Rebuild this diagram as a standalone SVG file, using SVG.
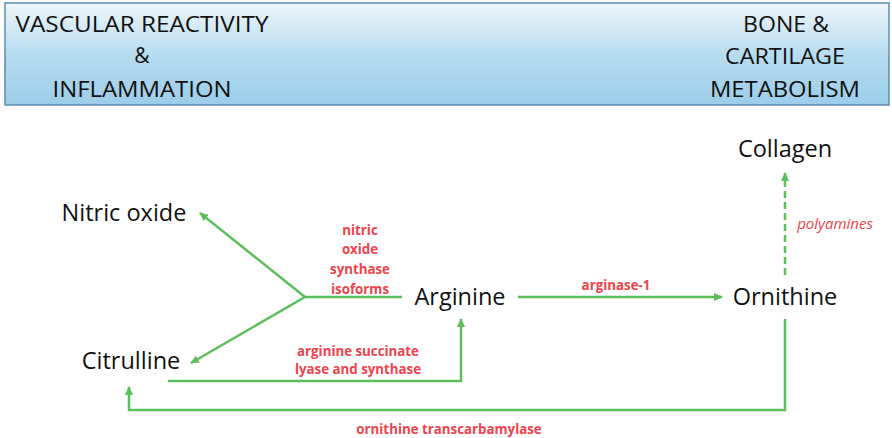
<svg xmlns="http://www.w3.org/2000/svg" width="892" height="438" viewBox="0 0 892 438">
<defs>
<linearGradient id="hdr" x1="0" y1="0" x2="0" y2="1">
<stop offset="0" stop-color="#eef6fb"/>
<stop offset="0.5" stop-color="#b7dcf0"/>
<stop offset="1" stop-color="#9ccde9"/>
</linearGradient>
<marker id="ah" markerWidth="10" markerHeight="10" refX="8" refY="5" orient="auto" markerUnits="userSpaceOnUse">
<path d="M0,1 L9,5 L0,9 Z" fill="#5cbf5c"/>
</marker>
<style>
.hd{font-family:"Open Sans","Liberation Sans",sans-serif;font-size:21px;fill:#111;text-anchor:middle}
.nd{font-family:"Open Sans","Liberation Sans",sans-serif;font-size:23.5px;fill:#111;text-anchor:middle}
.lb{font-family:"Open Sans","Liberation Sans",sans-serif;font-size:13.3px;font-weight:bold;fill:#f0434b;text-anchor:middle}
.it{font-family:"Open Sans","Liberation Sans",sans-serif;font-size:15px;font-style:italic;fill:#f0434b;text-anchor:middle}
.ln{stroke:#5cbf5c;stroke-width:2.5;fill:none}
</style>
</defs>
<rect x="0" y="0" width="892" height="438" fill="#fff"/>
<g id="header">
<rect x="5" y="3" width="884" height="102" fill="url(#hdr)" stroke="#5a8fb0" stroke-width="1.5"/>
<text class="hd" x="142" y="32" textLength="253" lengthAdjust="spacingAndGlyphs">VASCULAR REACTIVITY</text>
<text class="hd" x="142" y="63">&amp;</text>
<text class="hd" x="142" y="97" textLength="179" lengthAdjust="spacingAndGlyphs">INFLAMMATION</text>
<text class="hd" x="786" y="32" textLength="86" lengthAdjust="spacingAndGlyphs">BONE &amp;</text>
<text class="hd" x="785" y="64" textLength="120" lengthAdjust="spacingAndGlyphs">CARTILAGE</text>
<text class="hd" x="785" y="97" textLength="150" lengthAdjust="spacingAndGlyphs">METABOLISM</text>
</g>
<g id="connectors">
<polyline class="ln" points="402,297 305,297"/>
<line class="ln" x1="305" y1="297" x2="200" y2="213" marker-end="url(#ah)"/>
<line class="ln" x1="305" y1="297" x2="191" y2="363" marker-end="url(#ah)"/>
<polyline class="ln" points="168,381 461,381 461,319" marker-end="url(#ah)"/>
<line class="ln" x1="518" y1="297" x2="722" y2="297" marker-end="url(#ah)"/>
<polyline class="ln" points="785,319 785,410 129,410 129,387" marker-end="url(#ah)"/>
<line class="ln" x1="785" y1="275" x2="785" y2="173" stroke-dasharray="7,4" marker-end="url(#ah)"/>
</g>
<g id="labels">
<text class="lb" x="360" y="235">nitric</text>
<text class="lb" x="360" y="254">oxide</text>
<text class="lb" x="360" y="274">synthase</text>
<text class="lb" x="360" y="294">isoforms</text>
<text class="lb" x="616" y="290">arginase-1</text>
<text class="lb" x="358" y="356">arginine succinate</text>
<text class="lb" x="358" y="374">lyase and synthase</text>
<text class="lb" x="449" y="434">ornithine transcarbamylase</text>
<text class="it" x="835" y="229">polyamines</text>
</g>
<g id="node-nitric-oxide"><text class="nd" x="124" y="221">Nitric oxide</text></g>
<g id="node-collagen"><text class="nd" x="785" y="157">Collagen</text></g>
<g id="node-arginine"><text class="nd" x="460" y="305">Arginine</text></g>
<g id="node-ornithine"><text class="nd" x="785" y="305">Ornithine</text></g>
<g id="node-citrulline"><text class="nd" x="131" y="369">Citrulline</text></g>
</svg>
